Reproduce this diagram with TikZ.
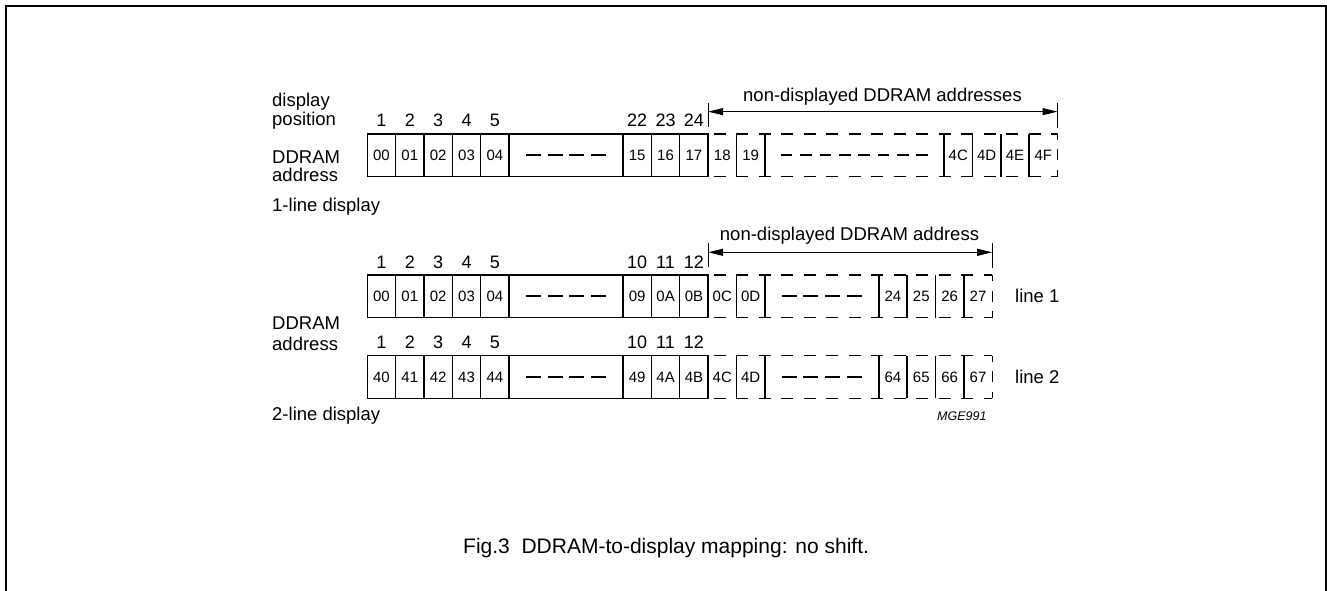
\documentclass[tikz,border=0pt]{standalone}
\usepackage{fontspec}
\setmainfont{Liberation Sans}
\usetikzlibrary{arrows.meta}
\tikzset{
  cell/.style={draw, line width=1.4pt, minimum width=28.35pt, minimum height=42.7pt,
    inner sep=0pt, outer sep=0pt, anchor=west, font=\fontsize{15}{15}\selectfont},
  ncell/.style={cell, draw=none},
  gapcell/.style={cell, minimum width=114pt},
  num/.style={anchor=base, inner sep=0pt, font=\fontsize{18}{18}\selectfont},
  lbl/.style={anchor=base west, inner sep=0pt, font=\fontsize{18.5}{18.5}\selectfont},
  sep/.style={line width=1.4pt},
  dsh/.style={line width=1.4pt, dash pattern=on 12pt off 10.5pt, dash phase=17pt},
  enddsh/.style={line width=1.4pt, dash pattern=on 6pt off 9.5pt on 11pt off 9.5pt on 8pt},
  middsh/.style={line width=1.9pt, dash pattern=on 15pt off 6.67pt},
  middshlong/.style={line width=1.9pt, dash pattern=on 11.5pt off 7.86pt},
  dimarrow/.style={line width=1pt, {Triangle[length=15pt,width=7pt]}-{Triangle[length=15pt,width=7pt]}},
  tickline/.style={line width=1pt},
  frameline/.style={line width=2pt}
}
\begin{document}
\begin{tikzpicture}[x=1pt,y=-1pt]
\useasboundingbox (0,0) rectangle (1327,591);
\draw[frameline] (6,591) -- (6,6) -- (1326,6) -- (1326,591);

% ---------- 1-line display ----------
\node[cell] (a1) at (367.3,155.3) {00};
\node[cell] (a2) at (a1.east) {01};
\node[cell] (a3) at (a2.east) {02};
\node[cell] (a4) at (a3.east) {03};
\node[cell] (a5) at (a4.east) {04};
\node[gapcell] (ag) at (a5.east) {};
\node[cell] (a6) at (ag.east) {15};
\node[cell] (a7) at (a6.east) {16};
\node[cell] (a8) at (a7.east) {17};
\node[ncell] (b1) at (a8.east) {18};
\node[ncell] (b2) at (b1.east) {19};
\node[ncell, minimum width=179.3pt] (bg) at (b2.east) {};
\node[ncell] (b3) at (bg.east) {4C};
\node[ncell] (b4) at (b3.east) {4D};
\node[ncell] (b5) at (b4.east) {4E};
\node[ncell] (b6) at (b5.east) {4F};
\draw[middsh] ([xshift=-40pt]ag.center) -- ([xshift=40pt]ag.center);
\draw[middshlong] ([xshift=-73.5pt]bg.center) -- ([xshift=73.5pt]bg.center);
\foreach \n in {b1,b2,bg,b3,b4,b5} \draw[sep] (\n.north east) -- (\n.south east);
\draw[enddsh] (b6.north east) -- (b6.south east);
\draw[dsh] (a8.north east) -- (b6.north east);
\draw[dsh] (a8.south east) -- (b6.south east);
\foreach \i in {1,...,5} \node[num] (p\i) at ([yshift=7.5pt]a\i.north) {\i};
\node[num] (p22) at ([yshift=7.5pt]a6.north) {22};
\node[num] (p23) at ([yshift=7.5pt]a7.north) {23};
\node[num] (p24) at ([yshift=7.5pt]a8.north) {24};
\coordinate (u1) at ([yshift=22.3pt]a8.north east);
\coordinate (u2) at ([yshift=22.3pt]b6.north east);
\draw[tickline] ([yshift=7pt]a8.north east) -- ([yshift=31pt]a8.north east);
\draw[tickline] ([yshift=6pt]b6.north east) -- ([yshift=31pt]b6.north east);
\draw[dimarrow] (u1) -- (u2);
\node[anchor=base, inner sep=0pt, font=\fontsize{18.5}{18.5}\selectfont] (nd1) at (882.5,101.5) {non-displayed DDRAM addresses};

\node[lbl] (l1) at (272,106.7) {display};
\node[lbl] (l2) at (272,125) {position};
\node[lbl] (l3) at (272,163.3) {DDRAM};
\node[lbl] (l4) at (272,181.7) {address};
\node[lbl] (l5) at (272,211.7) {1-line display};

% ---------- 2-line display, line 1 ----------
\node[cell] (c1) at (367.3,296.35) {00};
\node[cell] (c2) at (c1.east) {01};
\node[cell] (c3) at (c2.east) {02};
\node[cell] (c4) at (c3.east) {03};
\node[cell] (c5) at (c4.east) {04};
\node[gapcell] (cg) at (c5.east) {};
\node[cell] (c6) at (cg.east) {09};
\node[cell] (c7) at (c6.east) {0A};
\node[cell] (c8) at (c7.east) {0B};
\node[ncell] (d1) at (c8.east) {0C};
\node[ncell] (d2) at (d1.east) {0D};
\node[ncell, minimum width=114pt] (dg) at (d2.east) {};
\node[ncell] (d3) at (dg.east) {24};
\node[ncell] (d4) at (d3.east) {25};
\node[ncell] (d5) at (d4.east) {26};
\node[ncell] (d6) at (d5.east) {27};
\draw[middsh] ([xshift=-40pt]cg.center) -- ([xshift=40pt]cg.center);
\draw[middsh] ([xshift=-40pt]dg.center) -- ([xshift=40pt]dg.center);
\foreach \n in {d1,d2,dg,d3,d4,d5} \draw[sep] (\n.north east) -- (\n.south east);
\draw[enddsh] (d6.north east) -- (d6.south east);
\draw[dsh] (c8.north east) -- (d6.north east);
\draw[dsh] (c8.south east) -- (d6.south east);
\foreach \i in {1,...,5} \node[num] (q\i) at ([yshift=7pt]c\i.north) {\i};
\node[num] (q10) at ([yshift=7pt]c6.north) {10};
\node[num] (q11) at ([yshift=7pt]c7.north) {11};
\node[num] (q12) at ([yshift=7pt]c8.north) {12};
\coordinate (v1) at ([yshift=22.7pt]c8.north east);
\coordinate (v2) at ([yshift=22.7pt]d6.north east);
\draw[tickline] ([yshift=8pt]c8.north east) -- ([yshift=32pt]c8.north east);
\draw[tickline] ([yshift=7pt]d6.north east) -- ([yshift=32pt]d6.north east);
\draw[dimarrow] (v1) -- (v2);
\node[anchor=base, inner sep=0pt, font=\fontsize{18.5}{18.5}\selectfont] (nd2) at (849.5,240.7) {non-displayed DDRAM address};

% ---------- 2-line display, line 2 ----------
\node[cell] (e1) at (367.3,377) {40};
\node[cell] (e2) at (e1.east) {41};
\node[cell] (e3) at (e2.east) {42};
\node[cell] (e4) at (e3.east) {43};
\node[cell] (e5) at (e4.east) {44};
\node[gapcell] (eg) at (e5.east) {};
\node[cell] (e6) at (eg.east) {49};
\node[cell] (e7) at (e6.east) {4A};
\node[cell] (e8) at (e7.east) {4B};
\node[ncell] (f1) at (e8.east) {4C};
\node[ncell] (f2) at (f1.east) {4D};
\node[ncell, minimum width=114pt] (fg) at (f2.east) {};
\node[ncell] (f3) at (fg.east) {64};
\node[ncell] (f4) at (f3.east) {65};
\node[ncell] (f5) at (f4.east) {66};
\node[ncell] (f6) at (f5.east) {67};
\draw[middsh] ([xshift=-40pt]eg.center) -- ([xshift=40pt]eg.center);
\draw[middsh] ([xshift=-40pt]fg.center) -- ([xshift=40pt]fg.center);
\foreach \n in {f1,f2,fg,f3,f4,f5} \draw[sep] (\n.north east) -- (\n.south east);
\draw[enddsh] (f6.north east) -- (f6.south east);
\draw[dsh] (e8.north east) -- (f6.north east);
\draw[dsh] (e8.south east) -- (f6.south east);
\foreach \i in {1,...,5} \node[num] (r\i) at ([yshift=7pt]e\i.north) {\i};
\node[num] (r10) at ([yshift=7pt]e6.north) {10};
\node[num] (r11) at ([yshift=7pt]e7.north) {11};
\node[num] (r12) at ([yshift=7pt]e8.north) {12};

\node[lbl] (l6) at (272,329.3) {DDRAM};
\node[lbl] (l7) at (272,350) {address};
\node[lbl] (l8) at (272,420) {2-line display};
\node[lbl] (line1) at (1015,302.7) {line 1};
\node[lbl] (line2) at (1015,383.3) {line 2};
\node[anchor=base west, inner sep=0pt, font=\itshape\fontsize{12.5}{12.5}\selectfont] (code) at (937,420) {MGE991};

\node[anchor=base west, inner sep=0pt, font=\fontsize{21}{21}\selectfont] (cap) at (463,553.5) {Fig.3\hspace{0.556em}DDRAM-to-display mapping: no shift.};
\end{tikzpicture}
\end{document}
